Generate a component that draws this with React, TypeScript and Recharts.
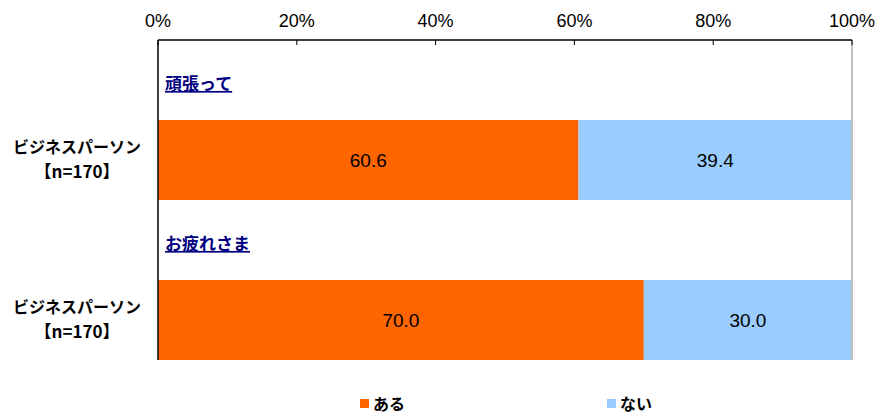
import { Bar, BarChart, LabelList, ReferenceLine, XAxis, YAxis } from "recharts";

const categories = ["頑張って", "お疲れさま"];
const groupLabel = "ビジネスパーソン";
const sampleLabel = "【n=170】";
const aruValues = [60.6, 70.0];
const naiValues = [39.4, 30.0];
const xTicks = [0, 20, 40, 60, 80, 100];
const seriesNames = ["ある", "ない"];
const seriesColors = ["#FF6600", "#99CCFF"];

const JP = '"Noto Sans CJK JP", "Noto Sans", sans-serif';
const NUM = '"Liberation Sans", Arial, sans-serif';

// header row (question) + bar row for each category
const rows = categories.flatMap((c, i) => [
  { key: `h${i}`, header: c },
  { key: `b${i}`, group: groupLabel, n: sampleLabel, aru: aruValues[i], nai: naiValues[i] },
]);

function CategoryTick({ x, y, payload }: any) {
  const row = rows.find((r) => r.key === payload.value) as any;
  if (!row) return null;
  if (row.header) {
    return (
      <text
        x={x + 15}
        y={y + 4}
        dy="0.35em"
        fill="#000080"
        fontFamily={JP}
        fontWeight="bold"
        fontSize={17}
        textDecoration="underline"
      >
        {row.header}
      </text>
    );
  }
  return (
    <g fontFamily={JP} fontWeight="bold" fontSize={16} fill="#000" textAnchor="middle">
      <text x={77} y={y - 13} dy="0.35em">
        {row.group}
      </text>
      <text x={77} y={y + 12} dy="0.35em" fontSize={17}>
        {row.n}
      </text>
    </g>
  );
}

const fmt = (v: any) => (typeof v === "number" ? v.toFixed(1) : "");

export default function App() {
  return (
    <div style={{ position: "relative", width: 877, height: 414, background: "#fff" }}>
      <style>{"body{margin:0}"}</style>
      <BarChart
        width={877}
        height={414}
        data={rows}
        layout="vertical"
        barCategoryGap={0}
        margin={{ top: 10, right: 25, bottom: 54, left: 0 }}
      >
        <XAxis
          type="number"
          orientation="top"
          domain={[0, 100]}
          ticks={xTicks}
          tickFormatter={(v) => `${v}%`}
          height={30}
          tickSize={-5}
          tickMargin={18}
          axisLine={{ stroke: "#000", strokeWidth: 1.5 }}
          tickLine={{ stroke: "#000" }}
          tick={{ fill: "#000", fontSize: 18, fontFamily: NUM }}
          interval={0}
        />
        <YAxis
          type="category"
          dataKey="key"
          width={158}
          axisLine={{ stroke: "#000", strokeWidth: 1.5 }}
          tickLine={false}
          tick={<CategoryTick />}
          interval={0}
        />
        <ReferenceLine x={100} stroke="#c0c0c0" strokeWidth={2} />
        <Bar dataKey="aru" stackId="a" fill={seriesColors[0]} isAnimationActive={false}>
          <LabelList dataKey="aru" position="center" formatter={fmt} fill="#000" fontSize={19} fontFamily={NUM} />
        </Bar>
        <Bar dataKey="nai" stackId="a" fill={seriesColors[1]} isAnimationActive={false}>
          <LabelList dataKey="nai" position="center" formatter={fmt} fill="#000" fontSize={19} fontFamily={NUM} />
        </Bar>
      </BarChart>
      {seriesNames.map((name, i) => (
        <div
          key={name}
          style={{
            position: "absolute",
            left: i === 0 ? 360 : 607,
            top: 394,
            display: "flex",
            alignItems: "center",
            fontFamily: JP,
            fontWeight: "bold",
            fontSize: 16,
            lineHeight: "18px",
          }}
        >
          <span style={{ width: 9, height: 9, background: seriesColors[i], marginRight: 4 }} />
          {name}
        </div>
      ))}
    </div>
  );
}
